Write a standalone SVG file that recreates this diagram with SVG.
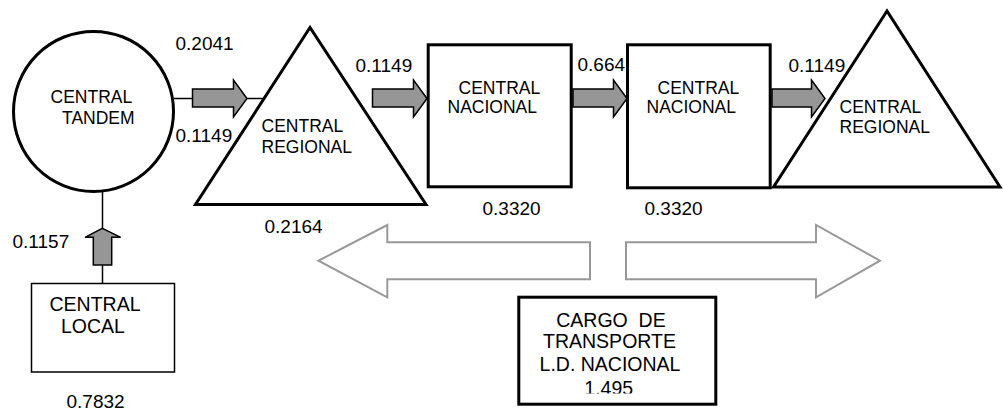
<svg xmlns="http://www.w3.org/2000/svg" width="1003" height="412" viewBox="0 0 1003 412">
<style>
text{font-family:"Liberation Sans",Arial,sans-serif;fill:#000}
.lbl{font-size:17.5px}
.big{font-size:19.5px}
.num{font-size:19px}
.node{fill:#fff;stroke:#000;stroke-width:3}
.thin{fill:#fff;stroke:#000;stroke-width:1.5}
.flow{fill:#969696;stroke:#000;stroke-width:1.5}
.hollow{fill:#fff;stroke:#999;stroke-width:2}
.line{stroke:#000;stroke-width:1.5;fill:none}
</style>
<defs>
<clipPath id="cargoClip"><rect x="517" y="295" width="201" height="98.5"/></clipPath>
</defs>
<rect width="1003" height="412" fill="#fff"/>
<g id="connectors">
<path class="hollow" d="M318.5,260.7 L387.3,225 V242.3 H590 V279.3 H387.3 V297.3 Z"/>
<path class="hollow" d="M626,242.3 H816 V225 L880,260.7 L816,297.3 V279.3 H626 Z"/>
<line class="line" x1="174" y1="98.5" x2="192.5" y2="98.5"/>
<line class="line" x1="247" y1="98.5" x2="263" y2="98.5"/>
<path class="flow" d="M192.5,89 H233.5 V80 L247,98.5 L233.5,117 V107 H192.5 Z"/>
<path class="flow" d="M372.5,89 H413.5 V80 L427,98.5 L413.5,117 V107 H372.5 Z"/>
<path class="flow" d="M573,89 H613.5 V80 L627,98.5 L613.5,117 V107 H573 Z"/>
<path class="flow" d="M772,89 H811.5 V80 L825,98.5 L811.5,117 V107 H772 Z"/>
<line class="line" x1="102.5" y1="192" x2="102.5" y2="229"/>
<line class="line" x1="102.5" y1="265" x2="102.5" y2="283"/>
<path class="flow" d="M93.3,265 V237.3 H85 L102.3,228.3 L120.7,237.3 H111.7 V265 Z"/>
</g>
<g id="tandem">
<circle class="node" cx="93.5" cy="111.4" r="80"/>
<text class="lbl" x="50.5" y="103.3">CENTRAL</text>
<text class="lbl" x="62" y="124">TANDEM</text>
</g>
<g id="regional1">
<polygon class="node" points="310,27.5 195.5,204.5 426,204.5"/>
<text class="lbl" x="261.5" y="132.3">CENTRAL</text>
<text class="lbl" x="261.5" y="153.3">REGIONAL</text>
</g>
<g id="nacional1">
<rect class="node" x="428.2" y="44.8" width="143" height="142"/>
<text class="lbl" x="458.5" y="94.3">CENTRAL</text>
<text class="lbl" x="447.5" y="113.3">NACIONAL</text>
</g>
<g id="nacional2">
<rect class="node" x="627.5" y="44.8" width="142.7" height="143"/>
<text class="lbl" x="657.5" y="94.3">CENTRAL</text>
<text class="lbl" x="646.5" y="113.3">NACIONAL</text>
</g>
<g id="regional2">
<polygon class="node" points="887,11 773.5,187 1000,187"/>
<text class="lbl" x="839.5" y="113.3">CENTRAL</text>
<text class="lbl" x="839.5" y="132.7">REGIONAL</text>
</g>
<g id="local">
<rect class="thin" x="31.5" y="283.5" width="143" height="88.5"/>
<text class="big" x="49.5" y="310.7">CENTRAL</text>
<text class="big" x="61" y="333.3">LOCAL</text>
</g>
<g id="cargo">
<rect class="node" x="518.8" y="297.2" width="197" height="107"/>
<text class="big" x="611" y="326.7" text-anchor="middle" xml:space="preserve">CARGO  DE</text>
<text class="big" x="609.5" y="348.3" text-anchor="middle">TRANSPORTE</text>
<text class="big" x="610" y="370.7" text-anchor="middle">L.D. NACIONAL</text>
<g clip-path="url(#cargoClip)"><text class="big" x="608.7" y="394.5" text-anchor="middle">1.495</text></g>
</g>
<g id="labels">
<text class="num" x="175.5" y="50">0.2041</text>
<text class="num" x="175.5" y="141.7">0.1149</text>
<text class="num" x="355.5" y="71.7">0.1149</text>
<text class="num" x="577.5" y="71">0.664</text>
<text class="num" x="788.5" y="71.7">0.1149</text>
<text class="num" x="264.5" y="233.3">0.2164</text>
<text class="num" x="482.5" y="215">0.3320</text>
<text class="num" x="644.5" y="214.5">0.3320</text>
<text class="num" x="12.5" y="248.3">0.1157</text>
<text class="num" x="66.5" y="407.5">0.7832</text>
</g>
</svg>
